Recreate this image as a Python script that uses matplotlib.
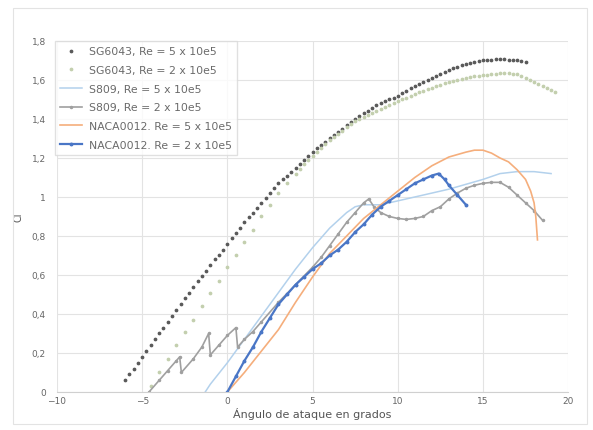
import matplotlib.pyplot as plt
from matplotlib.patches import Rectangle
from matplotlib.ticker import FuncFormatter

# SG6043, Re = 5 x 10e5
sg5_alpha = [-6.0, -5.75, -5.5, -5.25, -5.0, -4.75, -4.5, -4.25, -4.0, -3.75, -3.5, -3.25,
             -3.0, -2.75, -2.5, -2.25, -2.0, -1.75, -1.5, -1.25, -1.0, -0.75, -0.5, -0.25,
             0.0, 0.25, 0.5, 0.75, 1.0, 1.25, 1.5, 1.75, 2.0, 2.25, 2.5, 2.75,
             3.0, 3.25, 3.5, 3.75, 4.0, 4.25, 4.5, 4.75, 5.0, 5.25, 5.5, 5.75,
             6.0, 6.25, 6.5, 6.75, 7.0, 7.25, 7.5, 7.75, 8.0, 8.25, 8.5, 8.75,
             9.0, 9.25, 9.5, 9.75, 10.0, 10.25, 10.5, 10.75, 11.0, 11.25, 11.5, 11.75,
             12.0, 12.25, 12.5, 12.75, 13.0, 13.25, 13.5, 13.75, 14.0, 14.25, 14.5, 14.75,
             15.0, 15.25, 15.5, 15.75, 16.0, 16.25, 16.5, 16.75, 17.0, 17.25, 17.5]
sg5_cl = [0.06, 0.09, 0.12, 0.15, 0.18, 0.21, 0.24, 0.27, 0.30, 0.33, 0.36, 0.39,
          0.42, 0.45, 0.48, 0.51, 0.54, 0.57, 0.595, 0.62, 0.65, 0.68, 0.705, 0.73,
          0.76, 0.79, 0.815, 0.84, 0.87, 0.895, 0.92, 0.945, 0.97, 0.995, 1.02, 1.045,
          1.07, 1.09, 1.11, 1.13, 1.15, 1.17, 1.19, 1.21, 1.23, 1.25, 1.265, 1.28,
          1.30, 1.32, 1.335, 1.35, 1.37, 1.385, 1.40, 1.415, 1.43, 1.44, 1.455, 1.47,
          1.48, 1.49, 1.50, 1.51, 1.52, 1.535, 1.545, 1.56, 1.57, 1.58, 1.59, 1.60,
          1.61, 1.62, 1.63, 1.64, 1.65, 1.66, 1.665, 1.675, 1.68, 1.685, 1.69, 1.695,
          1.70, 1.705, 1.705, 1.71, 1.71, 1.71, 1.705, 1.705, 1.70, 1.695, 1.69]

# SG6043, Re = 2 x 10e5
sg2_alpha = [-4.5, -4.0, -3.5, -3.0, -2.5, -2.0, -1.5, -1.0, -0.5, 0.0, 0.5, 1.0,
             1.5, 2.0, 2.5, 3.0, 3.5, 4.0, 4.25, 4.5, 4.75, 5.0, 5.25, 5.5, 5.75,
             6.0, 6.25, 6.5, 6.75, 7.0, 7.25, 7.5, 7.75, 8.0, 8.25, 8.5, 8.75,
             9.0, 9.25, 9.5, 9.75, 10.0, 10.25, 10.5, 10.75, 11.0, 11.25, 11.5, 11.75,
             12.0, 12.25, 12.5, 12.75, 13.0, 13.25, 13.5, 13.75, 14.0, 14.25, 14.5, 14.75,
             15.0, 15.25, 15.5, 15.75, 16.0, 16.25, 16.5, 16.75, 17.0, 17.25, 17.5, 17.75,
             18.0, 18.25, 18.5, 18.75, 19.0, 19.25]
sg2_cl = [0.03, 0.10, 0.17, 0.24, 0.31, 0.37, 0.44, 0.51, 0.57, 0.64, 0.70, 0.77,
          0.83, 0.90, 0.96, 1.02, 1.07, 1.12, 1.145, 1.17, 1.19, 1.21, 1.23, 1.25, 1.27,
          1.29, 1.31, 1.325, 1.34, 1.36, 1.375, 1.39, 1.40, 1.41, 1.42, 1.43, 1.44,
          1.45, 1.46, 1.47, 1.48, 1.49, 1.50, 1.51, 1.52, 1.53, 1.54, 1.545, 1.555,
          1.56, 1.57, 1.575, 1.585, 1.59, 1.595, 1.60, 1.605, 1.61, 1.615, 1.62, 1.62,
          1.625, 1.625, 1.63, 1.63, 1.635, 1.635, 1.635, 1.63, 1.63, 1.62, 1.61, 1.60,
          1.59, 1.58, 1.57, 1.56, 1.55, 1.54]

# S809, Re = 5 x 10e5
s5_alpha = [-1.3, -1.0, 0.0, 1.0, 2.0, 3.0, 4.0, 5.0, 6.0, 7.0, 7.5, 8.0, 9.0, 10.0,
            11.0, 12.0, 13.0, 14.0, 15.0, 16.0, 17.0, 18.0, 19.0]
s5_cl = [0.0, 0.04, 0.15, 0.27, 0.39, 0.51, 0.63, 0.74, 0.84, 0.92, 0.95, 0.96, 0.96, 0.98,
         1.00, 1.02, 1.04, 1.065, 1.09, 1.12, 1.13, 1.13, 1.12]

# S809, Re = 2 x 10e5
s2_alpha = [-4.6, -4.0, -3.5, -3.0, -2.8, -2.7, -2.0, -1.5, -1.1, -1.0, -0.5, 0.0, 0.5, 0.6,
            1.0, 1.5, 2.0, 3.0, 4.0, 5.0, 5.5, 6.0, 6.5, 7.0, 7.5, 8.0, 8.3, 8.6, 9.0,
            9.5, 10.0, 10.5, 11.0, 11.5, 12.0, 12.5, 13.0, 13.5, 14.0, 14.5, 15.0, 15.5,
            16.0, 16.5, 17.0, 17.5, 18.0, 18.5]
s2_cl = [0.0, 0.06, 0.11, 0.16, 0.18, 0.10, 0.17, 0.23, 0.30, 0.19, 0.24, 0.29, 0.33, 0.23,
         0.27, 0.31, 0.36, 0.46, 0.55, 0.64, 0.69, 0.75, 0.81, 0.87, 0.92, 0.97, 0.99, 0.95, 0.92,
         0.90, 0.89, 0.885, 0.89, 0.90, 0.93, 0.95, 0.99, 1.02, 1.045, 1.06, 1.07, 1.075,
         1.075, 1.05, 1.01, 0.97, 0.93, 0.88]

# NACA0012, Re = 5 x 10e5
n5_alpha = [0.0, 1.0, 2.0, 3.0, 4.0, 5.0, 6.0, 7.0, 8.0, 9.0, 10.0, 11.0, 12.0, 13.0,
            14.0, 14.5, 15.0, 15.5, 16.0, 16.5, 17.0, 17.5, 17.8, 18.0, 18.1, 18.2]
n5_cl = [0.0, 0.10, 0.21, 0.32, 0.46, 0.59, 0.71, 0.80, 0.89, 0.96, 1.03, 1.10, 1.16, 1.205,
         1.23, 1.24, 1.24, 1.225, 1.20, 1.18, 1.14, 1.09, 1.03, 0.97, 0.90, 0.78]

# NACA0012, Re = 2 x 10e5
n2_alpha = [0.0, 0.5, 1.0, 1.5, 2.0, 2.5, 3.0, 3.5, 4.0, 4.5, 5.0, 5.5, 6.0, 6.5, 7.0,
            7.5, 8.0, 8.5, 9.0, 9.5, 10.0, 10.5, 11.0, 11.5, 12.0, 12.4, 12.75, 13.0,
            13.5, 14.0]
n2_cl = [0.0, 0.08, 0.16, 0.23, 0.31, 0.38, 0.45, 0.50, 0.55, 0.59, 0.63, 0.66, 0.70, 0.73,
         0.77, 0.82, 0.86, 0.91, 0.95, 0.98, 1.01, 1.04, 1.07, 1.09, 1.11, 1.12, 1.09, 1.06,
         1.01, 0.96]

fig = plt.figure(figsize=(5.93, 4.31), dpi=100)
ax = fig.add_axes([0.0961, 0.0882, 0.862, 0.8144])

# marco del gráfico (estilo Excel)
fig.patches.append(Rectangle((0.022, 0.015), 0.968, 0.965, transform=fig.transFigure,
                             fill=False, edgecolor='#e3e3e3', linewidth=0.8))

ax.plot(sg5_alpha, sg5_cl, linestyle='none', marker='o', markersize=1.7,
        color='#5a5a5a', label='SG6043, Re = 5 x 10e5')
ax.plot(sg2_alpha, sg2_cl, linestyle='none', marker='o', markersize=1.7,
        color='#c3cfae', label='SG6043, Re = 2 x 10e5')
ax.plot(s5_alpha, s5_cl, color='#b3d1ec', linewidth=1.1, label='S809, Re = 5 x 10e5')
ax.plot(s2_alpha, s2_cl, color='#a0a0a0', linewidth=1.2, marker='o', markersize=1.5,
        label='S809, Re = 2 x 10e5')
ax.plot(n5_alpha, n5_cl, color='#f5ae7c', linewidth=1.2, label='NACA0012. Re = 5 x 10e5')
ax.plot(n2_alpha, n2_cl, color='#4a76c6', linewidth=1.6, marker='o', markersize=1.8,
        label='NACA0012. Re = 2 x 10e5')

ax.set_xlim(-10, 20)
ax.set_ylim(0, 1.8)
ax.set_xticks([-10, -5, 0, 5, 10, 15, 20])
ax.set_yticks([0, 0.2, 0.4, 0.6, 0.8, 1.0, 1.2, 1.4, 1.6, 1.8])
ax.yaxis.set_major_formatter(FuncFormatter(lambda v, p: f'{v:g}'.replace('.', ',')))
ax.grid(True, color='#e3e3e3', linewidth=0.8)
ax.set_axisbelow(True)
for s in ['top', 'right', 'left']:
    ax.spines[s].set_visible(False)
ax.spines['bottom'].set_color('#d0d0d0')
ax.tick_params(axis='x', length=0, labelsize=6.5, labelcolor='#666666', pad=3)
ax.tick_params(axis='y', length=0, labelsize=6.5, labelcolor='#666666', pad=8)

ax.set_xlabel('Ángulo de ataque en grados', fontsize=8, color='#555555', labelpad=1)
ax.set_ylabel('Cl', fontsize=7, color='#555555', labelpad=6)

leg = ax.legend(loc='upper left', bbox_to_anchor=(-0.004, 1.0), fontsize=7.8,
                frameon=True, fancybox=False, edgecolor='#d9d9d9', handlelength=2.0,
                handletextpad=0.6, labelspacing=0.8, borderaxespad=0.0, borderpad=0.5)
for t in leg.get_texts():
    t.set_color('#6a6a6a')

fig.savefig('out.png', dpi=100)
